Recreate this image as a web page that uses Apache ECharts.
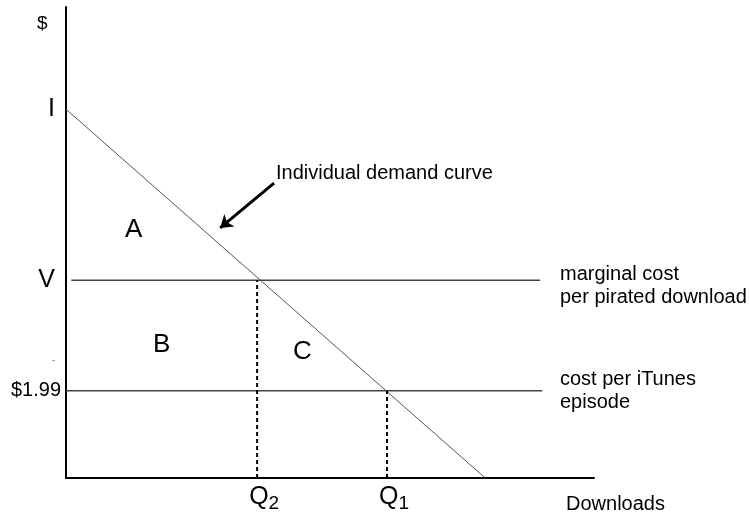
<!DOCTYPE html>
<html>
<head>
<meta charset="utf-8">
<script src="https://cdn.jsdelivr.net/npm/echarts@6/dist/echarts.min.js"></script>
<style>
  html, body { margin: 0; padding: 0; background: #fff; }
  #chart { width: 750px; height: 514px; }
</style>
</head>
<body>
<div id="chart"></div>
<script>
// price levels (arbitrary units)
var priceI = 7.83;
var priceV = 4.2;
var priceItunes = 1.85;
// quantities
var qty2 = 3.62;
var qty1 = 6.08;
var demandEnd = 7.94;

var demandCurve = [[0, priceI], [demandEnd, 0]];
var pirateLine = [[0.1, priceV], [8.98, priceV]];
var itunesLine = [[0, priceItunes], [9.02, priceItunes]];
var q2Drop = [[qty2, 0], [qty2, priceV]];
var q1Drop = [[qty1, 0], [qty1, priceItunes]];
var arrowPath = [[3.94, 6.26], [2.92, 5.31]];

var yTicks = [priceItunes, priceV, priceI];
var yTickLabels = ['{m|$1.99}', '{b|V}', '{b|I}'];
var xTicks = [qty2, qty1];
var xTickLabels = ['{q|Q}{s|2}', '{q|Q}{s|1}'];

var chart = echarts.init(document.getElementById('chart'));
var font = '"Liberation Sans", Arial, sans-serif';

var option = {
  animation: false,
  backgroundColor: '#fff',
  grid: { left: 66, right: 156, top: 7, bottom: 36, containLabel: false, outerBoundsMode: 'none' },
  xAxis: {
    type: 'value', min: 0, max: 10,
    splitLine: { show: false },
    axisLine: { lineStyle: { color: '#000', width: 2 } },
    axisTick: { show: false },
    axisLabel: {
      customValues: xTicks,
      margin: 4,
      formatter: function (v) { return xTickLabels[xTicks.indexOf(v)] || ''; },
      rich: {
        q: { fontFamily: font, fontSize: 25, color: '#000', padding: [0, 0, 0, 14] },
        s: { fontFamily: font, fontSize: 19, color: '#000', padding: [12, 0, 0, 0] }
      }
    }
  },
  yAxis: {
    type: 'value', min: 0, max: 10,
    splitLine: { show: false },
    axisLine: { lineStyle: { color: '#000', width: 2 } },
    axisTick: { show: false },
    axisLabel: {
      customValues: yTicks,
      margin: 8,
      formatter: function (v) { return yTickLabels[yTicks.indexOf(v)] || ''; },
      rich: {
        b: { fontFamily: font, fontSize: 25, color: '#000', padding: [0, 3, 0, 0] },
        m: { fontFamily: font, fontSize: 20, color: '#000', padding: [0, -3, 0, 0] }
      }
    }
  },
  series: [
    { type: 'line', data: demandCurve, symbol: 'none', lineStyle: { color: '#555', width: 1 } },
    { type: 'line', data: pirateLine, symbol: 'none', lineStyle: { color: '#444', width: 1.5 } },
    { type: 'line', data: itunesLine, symbol: 'none', lineStyle: { color: '#444', width: 1.5 } },
    { type: 'line', data: q2Drop, symbol: 'none', lineStyle: { color: '#000', width: 2, type: [4, 3] } },
    { type: 'line', data: q1Drop, symbol: 'none', lineStyle: { color: '#000', width: 2, type: [4, 3] } },
    {
      type: 'lines', coordinateSystem: 'cartesian2d',
      symbol: ['none', 'arrow'], symbolSize: 12,
      lineStyle: { color: '#000', width: 3, opacity: 1 },
      data: [{ coords: arrowPath }]
    }
  ],
  graphic: [
    { type: 'text', left: 37, top: 14, style: { text: '$', font: '19px ' + font, fill: '#000' } },
    { type: 'text', left: 52, top: 356, style: { text: '-', font: '9px ' + font, fill: '#555' } },
    { type: 'text', left: 276, top: 163, style: { text: 'Individual demand curve', font: '20px ' + font, fill: '#000' } },
    { type: 'text', left: 125, top: 217, style: { text: 'A', font: '26px ' + font, fill: '#000' } },
    { type: 'text', left: 153, top: 332, style: { text: 'B', font: '26px ' + font, fill: '#000' } },
    { type: 'text', left: 293, top: 339, style: { text: 'C', font: '26px ' + font, fill: '#000' } },
    { type: 'text', left: 560, top: 263, style: { text: 'marginal cost\nper pirated download', font: '20px ' + font, fill: '#000', lineHeight: 23 } },
    { type: 'text', left: 560, top: 368, style: { text: 'cost per iTunes\nepisode', font: '20px ' + font, fill: '#000', lineHeight: 23 } },
    { type: 'text', left: 566, top: 494, style: { text: 'Downloads', font: '20px ' + font, fill: '#000' } }
  ]
};

chart.setOption(option);
</script>
</body>
</html>
